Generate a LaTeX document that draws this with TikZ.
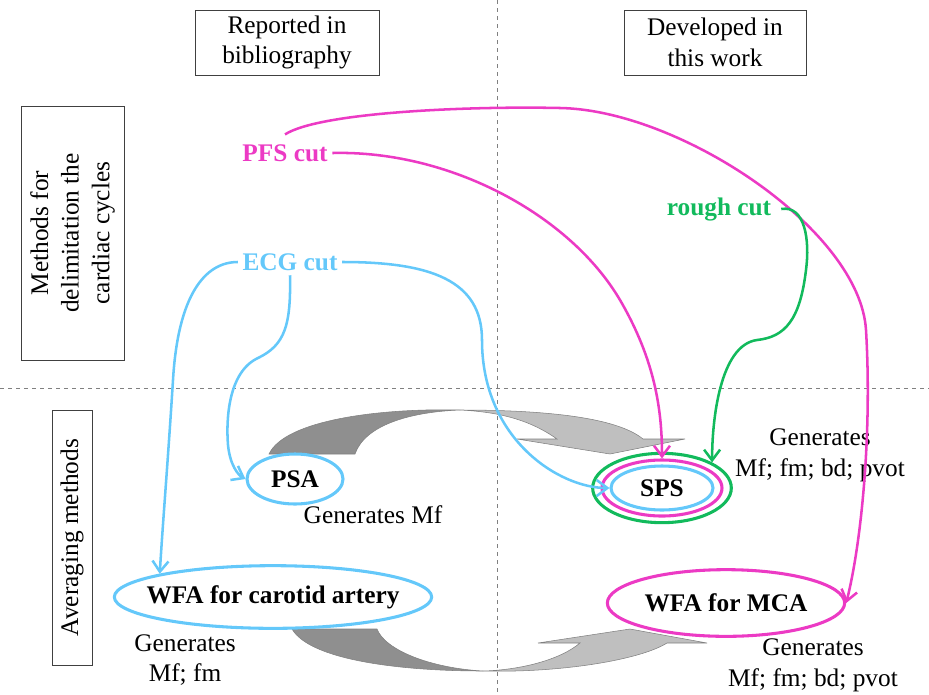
\documentclass[tikz,border=0pt]{standalone}
\usepackage{fontspec}
\setmainfont{Liberation Serif}
\usetikzlibrary{positioning,arrows.meta,shapes.geometric}

\definecolor{pfsmag}{RGB}{236,58,196}
\definecolor{ecgblue}{RGB}{100,200,250}
\definecolor{roughgreen}{RGB}{18,186,92}
\definecolor{backgray}{RGB}{143,143,143}
\definecolor{frontgray}{RGB}{191,191,191}
\newcommand\diagfont{\fontsize{19}{23}\selectfont}

\tikzset{
  hdrbox/.style={draw=black!75, thin, align=center, inner sep=0pt, font=\diagfont},
  cutlabel/.style={font=\diagfont\bfseries},
  avgell/.style={ellipse, draw, line width=2.3pt, inner sep=0pt, font=\diagfont\bfseries},
  genlabel/.style={align=center, font=\diagfont},
  link/.style={line width=1.9pt, -{Straight Barb[length=8pt,width=12pt]}},
  sepline/.style={gray, dashed, thin},
  bendarrow/.style={draw=gray, line width=0.4pt}
}

\begin{document}
\begin{tikzpicture}[x=0.75pt,y=-0.75pt]
\useasboundingbox (0,0) rectangle (929,694);

% curved block arrows
\filldraw[bendarrow, fill=backgray] (269,454) .. controls (285,420) and (380,408) .. (460,410)
    .. controls (410,412) and (365,425) .. (355,454) -- cycle;
\filldraw[bendarrow, fill=frontgray] (460,410) .. controls (560,410) and (620,420) .. (643,439)
    -- (685,439) -- (610,454) -- (517,439) -- (557,439)
    .. controls (530,420) and (500,412) .. (460,410) -- cycle;
\filldraw[bendarrow, fill=backgray] (292,629) -- (377,629) .. controls (385,650) and (430,668) .. (483,671)
    .. controls (400,671) and (310,660) .. (292,629) -- cycle;
\filldraw[bendarrow, fill=frontgray] (483,671) .. controls (560,673) and (640,660) .. (667,643)
    -- (707,643) -- (630,629) -- (538,643) -- (580,643)
    .. controls (560,660) and (520,670) .. (483,671) -- cycle;

% quadrants
\draw[sepline] (497,0) -- (497,694);
\draw[sepline] (0,388) -- (929,388);

% headers
\node[hdrbox, minimum width=138pt, minimum height=48.75pt] (colref) at (287,42.5) {Reported in\\bibliography};
\node[hdrbox, minimum width=136.5pt, minimum height=48.75pt] (coldev) at (715,42.5) {Developed in\\this work};
\node[hdrbox, rotate=90, minimum width=190.5pt, minimum height=77.25pt] (rowcut) at (72.5,233) {Methods for\\delimitation the\\cardiac cycles};
\node[hdrbox, rotate=90, minimum width=191.25pt, minimum height=30pt] (rowavg) at (72,537.5) {Averaging methods};

% delimitation methods
\node[cutlabel, text=pfsmag] (pfs) at (285,153) {PFS cut};
\node[cutlabel, text=ecgblue] (ecg) at (290,262) {ECG cut};
\node[cutlabel, text=roughgreen] (rough) at (719,209) {rough cut};

% averaging methods
\node[avgell, draw=ecgblue, minimum width=72pt, minimum height=37.5pt] (psa) at (295,479) {PSA};
\node[genlabel] (psagen) at (373,515) {Generates Mf};
\foreach \c/\w/\h/\n in {roughgreen/104/52/spsg, pfsmag/90/42/spsm}
    \node[avgell, draw=\c, minimum width=\w pt, minimum height=\h pt] (\n) at (662,488) {};
\node[avgell, draw=ecgblue, minimum width=76.5pt, minimum height=33pt] (spsb) at (662,488) {SPS};
\node[genlabel] (spsgen) at (820,455) {Generates\\Mf; fm; bd; pvot};
\node[avgell, draw=ecgblue, minimum width=238pt, minimum height=47pt,
      label={[font=\diagfont\bfseries]center:WFA for carotid artery}] (wfac) at (273,597) {};
\node[genlabel] (wfacgen) at (185,660) {Generates\\Mf; fm};
\node[avgell, draw=pfsmag, minimum width=178pt, minimum height=50pt,
      label={[font=\diagfont\bfseries]center:WFA for MCA}] (wfam) at (726,603) {};
\node[genlabel] (wfamgen) at (813,665) {Generates\\Mf; fm; bd; pvot};

% links
\draw[link, pfsmag] ([yshift=4pt]pfs.north) .. controls (320,112) and (470,106) .. (560,108)
    .. controls (680,110) and (860,230) .. (866,330)
    .. controls (872,430) and (862,540) .. (wfam.east);
\draw[link, pfsmag] (pfs.east) .. controls (450,150) and (570,215) .. (620,300)
    .. controls (655,360) and (662,410) .. (spsm.north);
\draw[link, roughgreen] ([xshift=4pt]rough.east) .. controls (805,205) and (810,240) .. (806,270)
    .. controls (800,320) and (785,337) .. (757,340)
    .. controls (720,345) and (712,420) .. (spsg.north east);
\draw[link, ecgblue] (ecg.east) .. controls (430,262) and (482,280) .. (482,340)
    .. controls (482,440) and (560,488) .. (spsb.west);
\draw[link, ecgblue] (ecg.west) .. controls (205,262) and (178,295) .. (173,380)
    .. controls (168,460) and (163,520) .. (wfac.north west);
\draw[link, ecgblue] (ecg.south) .. controls (291,325) and (285,345) .. (258,358)
    .. controls (228,372) and (226,420) .. (228,445)
    .. controls (230,465) and (238,475) .. (psa.west);
\end{tikzpicture}
\end{document}
